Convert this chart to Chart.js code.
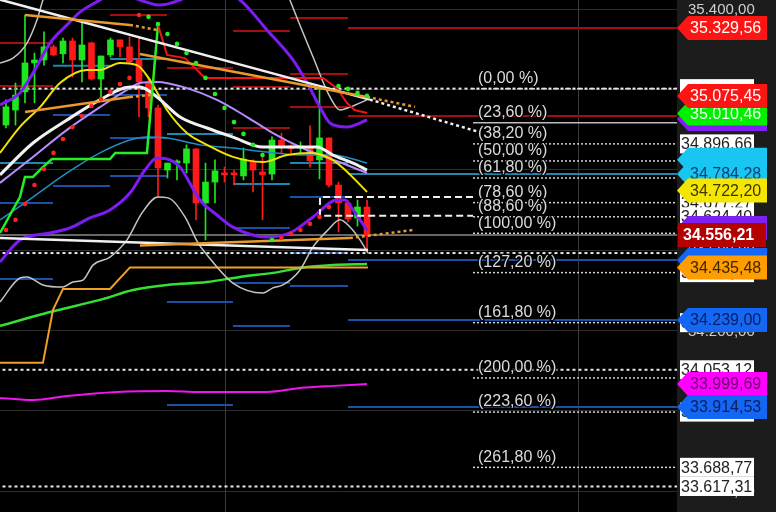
<!DOCTYPE html>
<html>
<head>
<meta charset="utf-8">
<title>chart</title>
<script src="https://cdn.jsdelivr.net/npm/chart.js@4.4.1/dist/chart.umd.min.js"></script>
<style>
  html, body { margin: 0; padding: 0; background: #000; }
  #wrap { width: 776px; height: 512px; position: relative; }
</style>
</head>
<body>
<div id="wrap"><canvas id="myChart"></canvas></div>
<script>

// candles, bar index 0..38
var opens  = [34967, 35023, 35091, 35199, 35210, 35259, 35233, 35281, 35210, 35274, 35139, 35229, 35285, 35259, 35210, 35124, 35031, 34799, 34825, 34825, 34878, 34676, 34754, 34788, 34788, 34777, 34829, 34792, 34784, 34911, 34889, 34881, 34881, 34837, 34919, 34743, 34676, 34620, 34661];
var highs  = [35061, 35124, 35378, 35236, 35315, 35266, 35292, 35292, 35348, 35277, 35225, 35292, 35285, 35296, 35296, 35143, 35042, 34825, 34837, 34893, 34878, 34825, 34837, 34810, 34799, 34881, 34837, 34855, 34923, 34937, 34893, 34904, 34964, 35106, 34919, 34754, 34684, 34687, 34687];
var lows   = [34956, 34967, 35050, 35050, 35191, 35225, 35199, 35147, 35128, 35135, 35068, 35221, 35221, 35195, 34997, 34997, 34698, 34769, 34762, 34788, 34613, 34538, 34676, 34754, 34743, 34762, 34717, 34613, 34762, 34863, 34863, 34863, 34810, 34766, 34736, 34568, 34605, 34590, 34501];
var closes = [35035, 35079, 35199, 35210, 35259, 35229, 35281, 35210, 35266, 35139, 35225, 35285, 35259, 35203, 35128, 35031, 34807, 34825, 34833, 34878, 34676, 34754, 34796, 34781, 34781, 34840, 34799, 34781, 34911, 34889, 34878, 34885, 34833, 34919, 34743, 34676, 34616, 34661, 34556.21];

var lastPrice = 34556.21;
var tickValues = [35400, 35100, 34800, 34500, 34200, 33900, 33600];

// indicator curves [bar index, price]
var bbUpper = [[-0.63,35042],[1.47,35087],[2.84,35161],[4.63,35273],[6.42,35341],[7.79,35389],[9.89,35434],[11.0,35460],[12.5,35455],[14.1,35434],[16.21,35415],[18.32,35434],[20.4,35470],[22.2,35470],[24.63,35434],[27.47,35322],[30.21,35210],[31.7,35124],[33.05,35034],[34.1,34975],[35.89,34960],[38.0,34986]];
var bbLower = [[-0.63,34456],[1.47,34538],[4.63,34564],[6.74,34583],[8.84,34620],[10.95,34650],[13.05,34713],[14.63,34799],[15.89,34844],[17.26,34837],[18.32,34810],[20.42,34687],[22.21,34631],[23.89,34586],[27.47,34549],[29.89,34564],[32.32,34624],[34.84,34687],[35.68,34687],[36.53,34650],[38.0,34575]];
var bbMid   = [[-0.63,34751],[2.84,34848],[6.42,34949],[9.89,35034],[13.05,35105],[14.1,35124],[15.89,35128],[19.05,35105],[22.21,35061],[25.37,34997],[28.1,34937],[30.95,34885],[33.05,34855],[35.89,34818],[38.0,34788]];
var maWhite = [[-0.63,34781],[2.84,34900],[6.42,34986],[9.89,35061],[13.05,35109],[14.1,35109],[15.89,35072],[18.32,34997],[21.16,34956],[23.89,34922],[27.05,34885],[29.58,34885],[32.74,34885],[34.42,34855],[36.53,34825],[38.0,34799]];
var maYellow = [[-0.63,34863],[1.47,34960],[3.58,35034],[5.68,35124],[8.53,35173],[9.89,35173],[12.0,35199],[13.79,35191],[15.16,35135],[16.95,35023],[19.05,34937],[21.16,34893],[23.89,34848],[27.05,34829],[29.58,34855],[32.0,34863],[33.79,34848],[35.47,34807],[38.0,34717]];
var maTeal  = [[-0.63,34613],[2.84,34698],[6.42,34788],[9.89,34863],[13.05,34911],[14.84,34922],[16.95,34919],[20.42,34893],[23.89,34881],[27.47,34866],[30.95,34855],[34.42,34855],[38.0,34825]];
var stopGreen = [[-0.63,34564],[1.47,34698],[2.0,34773],[2.84,34773],[3.79,34807],[4.84,34840],[10.95,34840],[11.5,34863],[14.84,34863],[16.0,35341]];
var stopRed   = [[16.0,35341],[16.95,35229],[18.84,35217],[20.95,35143],[33.37,35143],[34.84,35105],[35.89,35049],[36.7,35023],[38.0,35012]];
var smaLong = [[-0.63,34217],[4.63,34269],[9.89,34314],[13.37,34351],[16.95,34370],[21.16,34381],[24.63,34400],[28.1,34415],[30.95,34433],[34.42,34444],[38.0,34448]];
var stepOrange = [[-0.63,34079],[3.89,34079],[4.95,34277],[6.0,34355],[10.95,34355],[13.05,34435.48],[38.1,34435.48]];
var maMagenta = [[-0.63,33948],[2.84,33940],[6.42,33955],[11.68,33970],[16.95,33974],[20.42,33970],[27.47,33970],[30.95,33985],[34.42,33993],[38.0,33999.69]];
var envUpper = [[-0.63,35199],[0.74,35217],[2.21,35273],[3.26,35359],[3.89,35434],[5.0,35520],[29.0,35520],[29.89,35434],[32.32,35221],[34.1,35072],[35.16,35023],[36.21,35034],[38.0,35061]];
var envLower = [[-0.63,34306],[1.47,34396],[2.21,34400],[3.89,34370],[6.0,34362],[7.05,34381],[8.1,34388],[9.16,34444],[10.95,34474],[12.74,34538],[14.32,34639],[16.0,34698],[17.05,34695],[18.84,34624],[20.21,34527],[21.16,34482],[23.89,34377],[27.05,34340],[28.1,34359],[29.16,34370],[30.95,34426],[32.32,34512],[33.89,34575],[35.16,34613],[36.21,34586],[37.26,34538],[38.1,34489]];

// parabolic dots
var sarRed   = [[0,34575],[1,34613],[2,34672],[3,34743],[4,34803],[5,34863],[6,34915],[7,34960],[8,35001],[9,35038],[10,35064],[11,35090],[12,35120],[13,35143],[14,35378],[29,34545],[30,34560],[31,34575],[32,34598],[33,34624],[34,34661]];
var sarGreen = [[15,35371],[16,35344],[17,35307],[18,35270],[19,35236],[20,35199],[21,35143],[22,35083],[23,35031],[24,34978],[25,34934],[26,34893],[27,34855],[28,34538],[35,35113],[36,35102],[37,35087],[38,35076]];

// trend lines, solid part then dotted extension
var trendWhiteTop = [[-0.7,35436],[38.3,35062]];
var trendWhiteTopExt = [[38.3,35062],[49.9,34940]];
var trendOrangeA = [[2.0,35378],[13.05,35341]];
var trendOrangeAExt = [[13.05,35341],[15.89,35322]];
var trendOrangeB = [[14.1,35232],[38.0,35072]];
var trendOrangeBExt = [[38.0,35072],[43.05,35035]];
var trendOrangeC = [[2.0,35016],[13.05,35072]];
var trendOrangeCExt = [[13.05,35072],[15.2,35079]];
var trendOrangeD = [[14.1,34517],[36.2,34545]];
var trendOrangeDExt = [[36.2,34545],[42.84,34575]];
var trendWhiteBot = [[-0.7,34545],[38.1,34500]];

// pivot levels per period
var periodBounds = [-1, 4.95, 10.95, 16.95, 23.89, 29.89, 36.0, 71];
var pivotRed  = [[35273,35113],[],[35378],[35180],[35318,35109,34956],[35367,35158,35034],[35329.56,35001]];
var pivotTeal = [[34825],[35188],[35214],[34934],[34747],[34825],[34784.28]];
var pivotBlue = [[34676,34392],[35005,34739],[35079,34919,34777],[34306,33922],[34583,34377,34217],[34698,34489,34366],[34463,34239,33914.53]];

// fibonacci
var fibNames  = ['(0,00 %)','(23,60 %)','(38,20 %)','(50,00 %)','(61,80 %)','(78,60 %)','(88,60 %)','(100,00 %)','(127,20 %)','(161,80 %)','(200,00 %)','(223,60 %)','(261,80 %)'];
var fibPrices = [35103.0, 34975.5, 34896.66, 34832.9, 34769.2, 34677.27, 34624.40, 34562.8, 34415.9, 34229.0, 34022.6, 33895.1, 33688.77];
var fibStart = 49.16;
var fullDotted = [35103.0, 34489, 34053.12, 33617.31];
var boxX = [33.05, 49.16];
var boxY = [34628, 34698];
var sessionLines = [23.05, 60.2];

// price tags on the right (tags in tagHidden are only peeking out, no text)
var whiteTags = [35103.0, 34896.66, 34677.27, 34624.40, 34415.9, 34229.0, 34053.12, 33895.1, 33688.77, 33617.31];
var tagPrices = [34990, 35010.46, 35075.45, 35329.56, 34837, 34784.28, 34722.20, 34583, 34463, 34435.48, 34556.21, 34239.00, 33999.69, 33914.53];
var tagHidden = [35103.0, 34990, 34837, 34583, 34463];
var tagStyle = [
    ['#7f1ff0', '#ffffff'], ['#00f000', '#f4fff4'], ['#ff1414', '#ffffff'], ['#ff1414', '#ffffff'],
    ['#19c6f2', '#0b3f7a'], ['#19c6f2', '#0b3f7a'], ['#f5e600', '#3a3600'], ['#7f1ff0', '#ffffff'],
    ['#1466f5', '#0a2060'], ['#ff9c00', '#3a2600'], ['#b30000', '#ffffff'], ['#1466f5', '#0a2060'],
    ['#ff00ff', '#6a006a'], ['#1466f5', '#0a2060']
];


function fmt(v) {
    var s = v.toFixed(2).split('.');
    return s[0].replace(/\B(?=(\d{3})+(?!\d))/g, '.') + ',' + s[1];
}

var datasets = [];
var ord = 200;

function addLine(points, color, width, extra) {
    var d = {
        type: 'line',
        data: points.map(function (p) { return { x: p[0], y: p[1] }; }),
        borderColor: color,
        backgroundColor: color,
        borderWidth: width,
        pointRadius: 0,
        fill: false,
        tension: 0,
        order: ord--
    };
    for (var k in extra) d[k] = extra[k];
    datasets.push(d);
}

function segments(list) {
    var pts = [];
    list.forEach(function (prices, k) {
        prices.forEach(function (p) {
            pts.push([periodBounds[k], p]);
            pts.push([periodBounds[k + 1], p]);
            pts.push([periodBounds[k + 1], null]);
        });
    });
    return pts;
}

var smooth = { cubicInterpolationMode: 'monotone', tension: 0.4 };
var dotted = { borderDash: [3, 3] };

// pivots first (bottom)
addLine(segments(pivotRed), '#a30d0d', 2);
addLine(segments(pivotBlue), '#1c4fa6', 2);
addLine(segments(pivotTeal), '#1f86b0', 2);
addLine([[-1, lastPrice], [71, lastPrice]], '#8a8a8a', 1.5);

// fib lines
fibPrices.forEach(function (p, i) {
    if (i == 1) addLine([[fibStart, p], [71, p]], '#bdbdbd', 1.5);
    else addLine([[fibStart, p], [71, p]], '#d6d6d6', 1.5, { borderDash: [2, 2] });
});
fullDotted.forEach(function (p) {
    addLine([[-1, p], [71, p]], '#e8e8e8', 2, dotted);
});

// candles
function candleColor(ctx) {
    var i = ctx.dataIndex;
    return closes[i] >= opens[i] ? '#1ee61e' : '#ff1a1a';
}
datasets.push({
    type: 'bar',
    data: opens.map(function (o, i) { return { x: i, y: [lows[i], highs[i]] }; }),
    backgroundColor: candleColor,
    barThickness: 1,
    grouped: false,
    order: ord--
});
datasets.push({
    type: 'bar',
    data: opens.map(function (o, i) { return { x: i, y: [o, closes[i]] }; }),
    backgroundColor: candleColor,
    barThickness: 6,
    minBarLength: 2,
    grouped: false,
    order: ord--
});

// indicators
addLine(smaLong, '#35e035', 2.5, smooth);
addLine(stepOrange, '#f0a028', 2);
addLine(maMagenta, '#f014f0', 2, smooth);
addLine(envUpper, '#c4c4c4', 1.5, smooth);
addLine(envLower, '#c4c4c4', 1.5, smooth);
addLine(maTeal, '#1f8fc4', 1.5, smooth);
addLine(bbUpper, '#7d1cf2', 3, smooth);
addLine(bbLower, '#7d1cf2', 3, smooth);
addLine(bbMid, '#b98cff', 2, smooth);
addLine(maYellow, '#f2e200', 2, smooth);
addLine(maWhite, '#f2f2f2', 3, smooth);
addLine(stopGreen, '#22f022', 2.5);
addLine(stopRed, '#f01414', 2);

// trend lines
addLine(trendWhiteTop, '#f0f0f0', 2.5);
addLine(trendWhiteTopExt, '#f0f0f0', 2.5, dotted);
addLine(trendWhiteBot, '#f0f0f0', 2.5);
addLine(trendOrangeA, '#e89a2c', 2.5);
addLine(trendOrangeAExt, '#e89a2c', 2.5, dotted);
addLine(trendOrangeB, '#e89a2c', 2.5);
addLine(trendOrangeBExt, '#e89a2c', 2.5, dotted);
addLine(trendOrangeC, '#e89a2c', 2.5);
addLine(trendOrangeCExt, '#e89a2c', 2.5, dotted);
addLine(trendOrangeD, '#e89a2c', 2.5);
addLine(trendOrangeDExt, '#e89a2c', 2.5, dotted);

// dashed box
addLine([[boxX[1], boxY[1]], [boxX[0], boxY[1]], [boxX[0], boxY[0]], [boxX[1], boxY[0]]], '#f0f0f0', 2, { borderDash: [7, 4] });

// dots
addLine(sarRed, '#ff2020', 0, { showLine: false, pointRadius: 2.3, pointBorderWidth: 0, pointBackgroundColor: '#ff2020' });
addLine(sarGreen, '#22ee22', 0, { showLine: false, pointRadius: 2.3, pointBorderWidth: 0, pointBackgroundColor: '#22ee22' });


var FONT = '"Liberation Sans", Arial, sans-serif';

var overlay = {
    id: 'overlay',
    beforeDraw: function (chart) {
        var c = chart.ctx, a = chart.chartArea;
        c.save();
        c.fillStyle = '#000';
        c.fillRect(0, 0, chart.width, chart.height);
        c.fillStyle = '#1c1c1c';
        c.fillRect(a.right, 0, chart.width - a.right, chart.height);
        c.restore();
    },
    beforeDatasetsDraw: function (chart) {
        var c = chart.ctx, a = chart.chartArea, xs = chart.scales.x;
        c.save();
        c.strokeStyle = '#3a3a3a';
        c.lineWidth = 1;
        sessionLines.forEach(function (v) {
            var px = Math.round(xs.getPixelForValue(v)) + 0.5;
            c.beginPath();
            c.moveTo(px, a.top);
            c.lineTo(px, a.bottom);
            c.stroke();
        });
        c.restore();
    },
    afterDraw: function (chart) {
        var c = chart.ctx, a = chart.chartArea, xs = chart.scales.x, ys = chart.scales.y;
        c.save();

        // axis values
        c.font = '15px ' + FONT;
        c.textBaseline = 'middle';
        c.textAlign = 'left';
        c.fillStyle = '#cfcfcf';
        tickValues.forEach(function (v) {
            c.fillText(fmt(v), a.right + 11, ys.getPixelForValue(v) + 1);
        });

        // fib texts
        c.font = '16px ' + FONT;
        c.textBaseline = 'bottom';
        c.lineJoin = 'round';
        var fx = xs.getPixelForValue(fibStart) + 5;
        fibNames.forEach(function (t, i) {
            var py = ys.getPixelForValue(fibPrices[i]) - 2;
            c.strokeStyle = 'rgba(0,0,0,0.85)';
            c.lineWidth = 3;
            c.strokeText(t, fx, py);
            c.fillStyle = '#dcdcdc';
            c.fillText(t, fx, py);
        });

        // white tags
        c.textBaseline = 'middle';
        whiteTags.forEach(function (p) {
            var py = ys.getPixelForValue(p);
            c.fillStyle = '#ffffff';
            c.fillRect(a.right + 3, py - 9.5, 74, 19);
            if (tagHidden.indexOf(p) >= 0) return;
            c.fillStyle = '#222';
            c.fillText(fmt(p), a.right + 4, py + 1);
        });

        // coloured tags
        tagPrices.forEach(function (p, i) {
            var py = ys.getPixelForValue(p);
            var bg = tagStyle[i][0], fg = tagStyle[i][1];
            var h = 12, left = a.right, right = a.right + 90;
            c.fillStyle = bg;
            c.beginPath();
            if (p == lastPrice) {
                c.moveTo(left + 1, py - h);
                c.lineTo(right - 1, py - h);
                c.lineTo(right - 1, py + h);
                c.lineTo(left + 1, py + h);
            } else {
                c.moveTo(left, py);
                c.lineTo(left + 11, py - h);
                c.lineTo(right, py - h);
                c.lineTo(right, py + h);
                c.lineTo(left + 11, py + h);
            }
            c.closePath();
            c.fill();
            if (tagHidden.indexOf(p) >= 0) return;
            c.fillStyle = fg;
            c.font = (p == lastPrice ? 'bold ' : '') + '16px ' + FONT;
            c.fillText(fmt(p), p == lastPrice ? left + 6 : left + 13, py + 1);
        });
        c.restore();
    }
};


var chartArea = document.getElementById('myChart').getContext('2d');

var myChart = new Chart(chartArea, {
    type: 'line',
    data: { datasets: datasets },
    options: {
        responsive: true,
        maintainAspectRatio: false,
        animation: false,
        layout: { padding: 0, autoPadding: false },
        plugins: {
            legend: { display: false },
            tooltip: { enabled: false }
        },
        scales: {
            x: {
                type: 'linear',
                display: false,
                offset: false,
                min: -0.63,
                max: 70.63
            },
            y: {
                type: 'linear',
                position: 'right',
                min: 33522,
                max: 35434,
                afterFit: function (s) { s.width = 99; },
                afterBuildTicks: function (s) {
                    s.ticks = tickValues.map(function (v) { return { value: v }; });
                },
                grid: { color: '#2e2e2e', drawTicks: false },
                border: { display: false },
                ticks: { display: false }
            }
        }
    },
    plugins: [overlay]
});

</script>
</body>
</html>
